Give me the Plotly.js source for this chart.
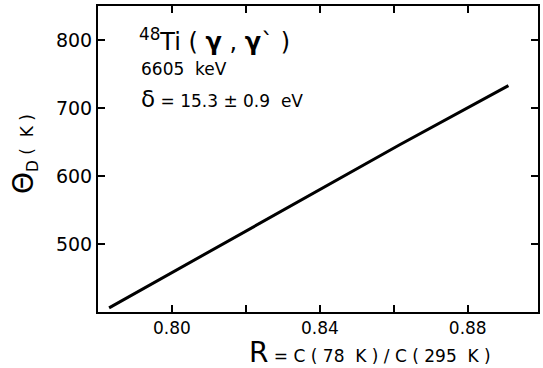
<!DOCTYPE html>
<html>
<head>
<meta charset="utf-8">
<script src="https://cdn.plot.ly/plotly-3.0.1.min.js"></script>
<style>html,body{margin:0;padding:0;background:#fff;}#chart{width:543px;height:368px;}</style>
</head>
<body>
<div id="chart"></div>
<script>
// Data
const ratioR = [0.783, 0.8076, 0.8616, 0.891];
const debyeTemp = [406, 481, 646, 733];
const xTickVals = [0.80, 0.84, 0.88];
const xTickText = ['0.80', '0.84', '0.88'];
const xMinorVals = [0.82, 0.86];
const yTickVals = [500, 600, 700, 800];
const yTickText = ['500', '600', '700', '800'];

const FONT = 'DejaVu Sans, Arial, sans-serif';
const L = 98, R = 5, T = 6, B = 56, W = 543, H = 368;
const pw = W - L - R, ph = H - T - B;
const px = v => (v - L) / pw;
const py = v => (H - B - v) / ph;

const trace = {
  x: ratioR, y: debyeTemp, mode: 'lines', type: 'scatter',
  line: {color: '#000', width: 3}, hoverinfo: 'skip', showlegend: false
};

const axisCommon = {
  showline: true, mirror: 'ticks', linecolor: '#000', linewidth: 2,
  ticks: 'inside', ticklen: 7, tickwidth: 2, tickcolor: '#000',
  showgrid: false, zeroline: false, tickmode: 'array'
};

const layout = {
  width: W, height: H,
  margin: {l: L, r: R, t: T, b: B},
  paper_bgcolor: '#fff', plot_bgcolor: '#fff',
  font: {family: FONT, color: '#000'},
  xaxis: Object.assign({}, axisCommon, {
    range: [0.78, 0.899], tickvals: xTickVals, ticktext: xTickText,
    tickfont: {size: 17, family: FONT, color: '#000'},
    minor: {tickmode: 'array', tickvals: xMinorVals, ticks: 'inside', ticklen: 7, tickwidth: 2, tickcolor: '#000', showgrid: false}
  }),
  yaxis: Object.assign({}, axisCommon, {
    range: [400, 850], tickvals: yTickVals, ticktext: yTickText,
    tickfont: {size: 19, family: FONT, color: '#000'}
  }),
  annotations: [
    {xref: 'paper', yref: 'paper', x: px(137), y: py(40), xanchor: 'left', yanchor: 'middle',
     showarrow: false, font: {size: 24, family: FONT, color: '#000'},
     text: '<sup>48</sup>Ti ( <b>γ</b> , <b>γ</b>` )'},
    {xref: 'paper', yref: 'paper', x: px(139), y: py(69), xanchor: 'left', yanchor: 'middle',
     showarrow: false, font: {size: 17, family: FONT, color: '#000'},
     text: '6605  keV'},
    {xref: 'paper', yref: 'paper', x: px(139), y: py(99), xanchor: 'left', yanchor: 'middle',
     showarrow: false, font: {size: 17, family: FONT, color: '#000'},
     text: '<span style="font-size:23px">δ</span> = 15.3 ± 0.9  eV'},
    {xref: 'paper', yref: 'paper', x: px(25), y: py(154), xanchor: 'center', yanchor: 'middle',
     textangle: -90, showarrow: false, font: {size: 22, family: FONT, color: '#000'},
     text: '<span style="font-size:28px">Θ</span><sub>D</sub><span style="font-size:17px"> (  K )</span>'},
    {xref: 'paper', yref: 'paper', x: px(370), y: py(352), xanchor: 'center', yanchor: 'middle',
     showarrow: false, font: {size: 17, family: FONT, color: '#000'},
     text: '<span style="font-size:28px">R</span> = C ( 78  K ) / C ( 295  K )'}
  ]
};

Plotly.newPlot('chart', [trace], layout, {staticPlot: true, displayModeBar: false});
</script>
</body>
</html>
